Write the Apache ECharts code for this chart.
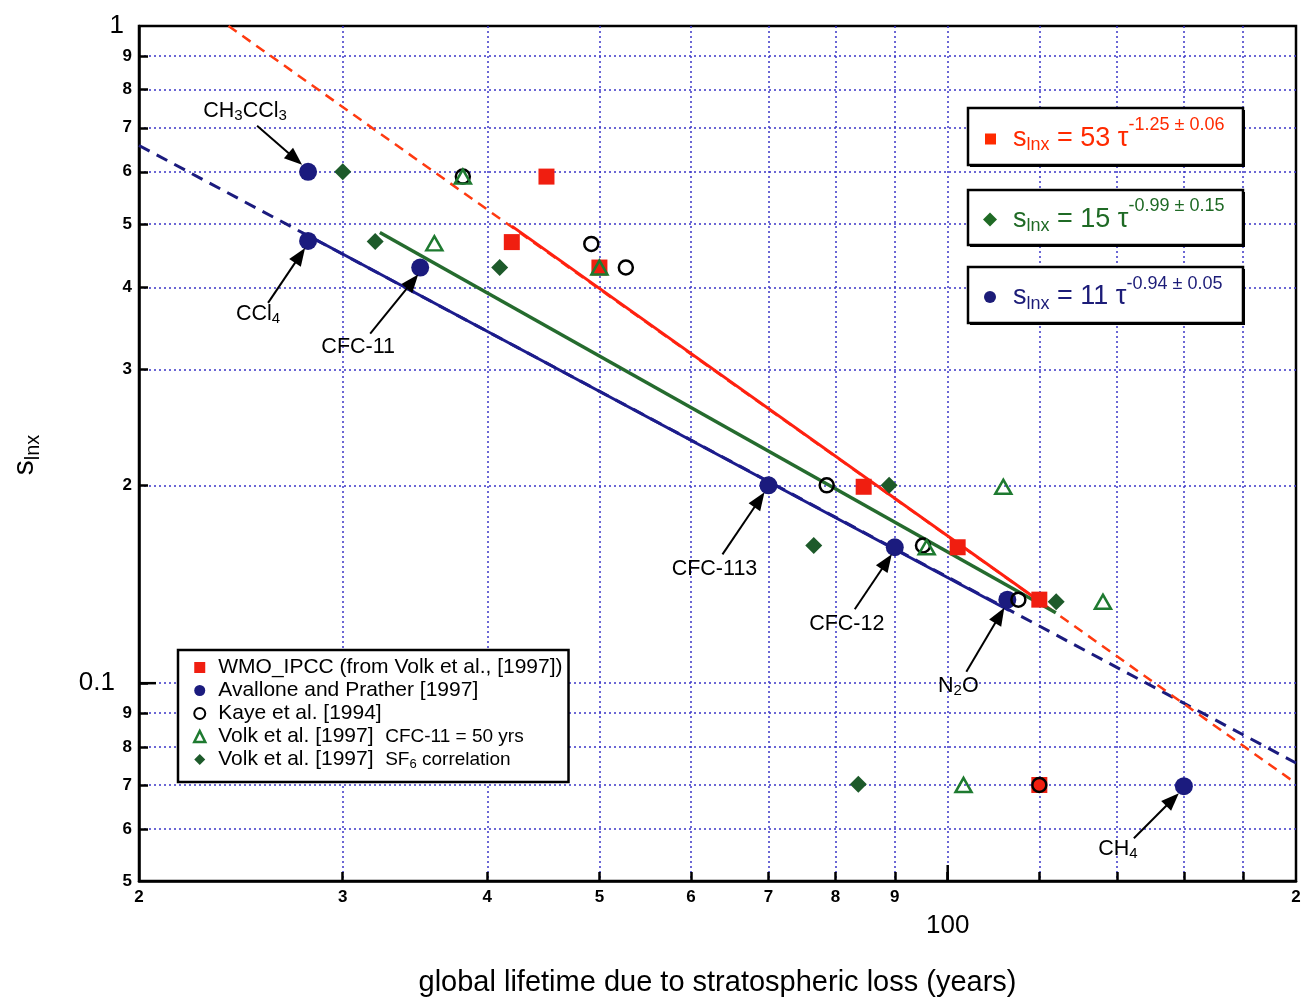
<!DOCTYPE html>
<html>
<head>
<meta charset="utf-8">
<title>s_lnx vs global lifetime</title>
<script src="https://cdn.jsdelivr.net/npm/echarts@6/dist/echarts.min.js"></script>
<style>
html,body{margin:0;padding:0;background:#fff;}
#chart{width:1305px;height:1002px;}
</style>
</head>
<body>
<div id="chart"></div>
<script>
// ---------------- data (lifetime in years, s_lnx) ----------------
const species = ['CH3CCl3','CCl4','CFC-11','CFC-113','CFC-12','N2O','CH4'];

const wmoLifetime      = [45.0, 42.0, 50.0, 84.6, 102.0, 120.0, 120.0];
const wmoS             = [0.590, 0.469, 0.429, 0.199, 0.161, 0.134, 0.0700];
const avalloneLifetime = [28.0, 28.0, 35.0, 70.0, 90.0, 112.6, 160.0];
const avalloneS        = [0.600, 0.471, 0.429, 0.200, 0.161, 0.134, 0.0697];
const kayeLifetime     = [38.1, 49.2, 52.7, 78.6, 95.2, 115.1, 120.0];
const kayeS            = [0.590, 0.466, 0.429, 0.200, 0.162, 0.134, 0.0700];
const volk50Lifetime   = [38.1, 36.0, 50.0, 111.7, 95.9, 136.2, 103.2];
const volk50S          = [0.590, 0.467, 0.429, 0.199, 0.161, 0.133, 0.0700];
const volkSF6Lifetime  = [30.0, 32.0, 41.0, 89.0, 76.6, 124.1, 83.7];
const volkSF6S         = [0.600, 0.470, 0.429, 0.200, 0.162, 0.133, 0.0702];

// fitted power-law lines: end points
const wmoFitLifetime = [42.0, 121.0];  const wmoFitS = [0.496, 0.132];
const wmoExtLifetime = [23.9, 200.0];  const wmoExtS = [1.0, 0.0704];
const sf6FitLifetime = [32.3, 124.0];  const sf6FitS = [0.485, 0.128];
const avFitLifetime  = [28.0, 113.0];  const avFitS  = [0.480, 0.129];
const avExtLifetime  = [20.0, 200.0];  const avExtS  = [0.658, 0.0756];

// axis ticks / labels
const xMin = 20, xMax = 200, yMin = 0.05, yMax = 1;
const xTickValues  = [30,40,50,60,70,80,90,100,120,140,160,180];
const xMajorTick   = 100;
const xLabelValues = [20,30,40,50,60,70,80,90,100,200];
const yTickValues  = [0.06,0.07,0.08,0.09,0.1,0.2,0.3,0.4,0.5,0.6,0.7,0.8,0.9];
const yMajorTick   = 0.1;
const yLabelValues = [0.05,0.06,0.07,0.08,0.09,0.1,0.2,0.3,0.4,0.5,0.6,0.7,0.8,0.9,1];

// texts
const seriesNames = [
  'WMO_IPCC (from Volk et al., [1997])',
  'Avallone and Prather [1997]',
  'Kaye et al. [1994]',
  'Volk et al. [1997]  CFC-11 = 50 yrs',
  'Volk et al. [1997]  SF6 correlation'
];
const xTitle = 'global lifetime due to stratospheric loss (years)';
const eqCoef = ['53', '15', '11'];
const eqExp  = ['-1.25 ± 0.06', '-0.99 ± 0.15', '-0.94 ± 0.05'];

// ---------------- styling ----------------
const FONT = "'Liberation Sans', Arial, Helvetica, sans-serif";
const RED = '#f01e10', NAVY = '#1b1b7e', DKGREEN = '#1d5a2a', GREEN = '#1e7a30';
const lg = v => Math.log10(v);
const pts = (xs, ys) => xs.map((x, i) => [lg(x), lg(ys[i])]);

function xFmt(v) {
  const t = Math.round(Math.pow(10, v));
  return t === 100 ? '{big|100}' : '{sm|' + String(t).charAt(0) + '}';
}
function yFmt(v) {
  const s = Math.pow(10, v);
  if (Math.abs(s - 0.1) < 1e-9) return '{bigA|0.1}';
  if (Math.abs(s - 1) < 1e-9) return '{bigB|1}';
  const e = Math.floor(Math.log10(s) + 1e-9);
  return '{sm|' + Math.round(s / Math.pow(10, e)) + '}';
}

function lineSeries(xs, ys, color, width, dash, z) {
  return {
    type: 'line', data: pts(xs, ys), symbol: 'none', silent: true, z: z,
    lineStyle: { color: color, width: width, type: dash || 'solid' }
  };
}

const option = {
  animation: false,
  backgroundColor: '#ffffff',
  textStyle: { fontFamily: FONT },
  grid: { left: 139, right: 9, top: 26, bottom: 119, show: true, borderColor: '#000', borderWidth: 2.5 },
  xAxis: {
    type: 'value', min: lg(xMin), max: lg(xMax), position: 'bottom',
    axisLine: { show: true, onZero: false, lineStyle: { color: '#000', width: 2.5 } },
    axisTick: { show: true, inside: true, length: 9, customValues: xTickValues.map(lg), lineStyle: { color: '#000', width: 2.5 } },
    axisLabel: {
      show: true, customValues: xLabelValues.map(lg), margin: 8, formatter: xFmt, color: '#000',
      rich: {
        sm: { fontFamily: FONT, fontSize: 17, fontWeight: 'bold', color: '#000' },
        big: { fontFamily: FONT, fontSize: 26, color: '#000', padding: [24, 0, 0, 0] }
      }
    },
    splitLine: { show: true, lineStyle: { color: '#3b36c8', width: 1.5, type: [2, 3] } },
    name: xTitle, nameLocation: 'middle', nameGap: 87,
    nameTextStyle: { fontFamily: FONT, fontSize: 29, color: '#000' }
  },
  yAxis: {
    type: 'value', min: lg(yMin), max: lg(yMax), position: 'left',
    axisLine: { show: true, onZero: false, lineStyle: { color: '#000', width: 2.5 } },
    axisTick: { show: true, inside: true, length: 9, customValues: yTickValues.map(lg), lineStyle: { color: '#000', width: 2.5 } },
    axisLabel: {
      show: true, customValues: yLabelValues.map(lg), margin: 7, formatter: yFmt, color: '#000',
      rich: {
        sm: { fontFamily: FONT, fontSize: 17, fontWeight: 'bold', color: '#000' },
        bigA: { fontFamily: FONT, fontSize: 26, color: '#000', padding: [0, 17, 0, 0] },
        bigB: { fontFamily: FONT, fontSize: 26, color: '#000', padding: [0, 8, 0, 0] }
      }
    },
    splitLine: { show: true, lineStyle: { color: '#3b36c8', width: 1.5, type: [2, 3] } }
  },
  legend: {
    data: [
      { name: seriesNames[0], icon: 'rect', itemStyle: { color: RED } },
      { name: seriesNames[1], icon: 'circle', itemStyle: { color: NAVY } },
      { name: seriesNames[2], icon: 'circle', itemStyle: { color: '#fff', borderColor: '#000', borderWidth: 2 } },
      { name: seriesNames[3], icon: 'triangle', itemStyle: { color: '#fff', borderColor: GREEN, borderWidth: 2.5 } },
      { name: seriesNames[4], icon: 'diamond', itemStyle: { color: DKGREEN } }
    ],
    orient: 'vertical', left: 178, top: 650, selectedMode: false,
    itemWidth: 11, itemHeight: 11, itemGap: 0,
    backgroundColor: '#fff', borderColor: '#000', borderWidth: 2.5, borderRadius: 0,
    padding: [6, 6, 11, 15],
    formatter: function (name) {
      if (name === seriesNames[3]) return 'Volk et al. [1997]  {sm|CFC-11 = 50 yrs}';
      if (name === seriesNames[4]) return 'Volk et al. [1997]  {sm|SF}{sub|6}{sm| correlation}';
      return name;
    },
    textStyle: {
      fontFamily: FONT, fontSize: 21, color: '#000', lineHeight: 23, padding: [0, 0, 0, 8],
      rich: {
        sm: { fontFamily: FONT, fontSize: 19, color: '#000', lineHeight: 23 },
        sub: { fontFamily: FONT, fontSize: 13, color: '#000', padding: [10, 0, 0, 0] }
      }
    }
  },
  series: [
    lineSeries(avExtLifetime, avExtS, NAVY, 3, [12, 8], 2),
    lineSeries(wmoExtLifetime, wmoExtS, '#ff3a10', 2.5, [10, 7], 2),
    lineSeries(avFitLifetime, avFitS, '#1c1c8c', 3, 'solid', 3),
    lineSeries(sf6FitLifetime, sf6FitS, '#256b2e', 3.5, 'solid', 3),
    lineSeries(wmoFitLifetime, wmoFitS, '#ff2010', 3, 'solid', 3),
    { name: seriesNames[1], type: 'scatter', z: 4, data: pts(avalloneLifetime, avalloneS),
      symbol: 'circle', symbolSize: 18, itemStyle: { color: NAVY, opacity: 1 } },
    { name: seriesNames[0], type: 'scatter', z: 5, data: pts(wmoLifetime, wmoS),
      symbol: 'rect', symbolSize: 16, itemStyle: { color: RED, opacity: 1 } },
    { name: seriesNames[2], type: 'scatter', z: 6, data: pts(kayeLifetime, kayeS),
      symbol: 'circle', symbolSize: 14, itemStyle: { color: 'rgba(255,255,255,0)', borderColor: '#000', borderWidth: 2.5, opacity: 1 } },
    { name: seriesNames[4], type: 'scatter', z: 7, data: pts(volkSF6Lifetime, volkSF6S),
      symbol: 'diamond', symbolSize: [17, 17], itemStyle: { color: DKGREEN, opacity: 1 } },
    { name: seriesNames[3], type: 'scatter', z: 8, data: pts(volk50Lifetime, volk50S),
      symbol: 'triangle', symbolSize: [16, 14], itemStyle: { color: 'rgba(255,255,255,0)', borderColor: GREEN, borderWidth: 2.5, opacity: 1 } }
  ]
};

const chart = echarts.init(document.getElementById('chart'), null, { renderer: 'canvas' });
chart.setOption(option);

const P = (x, y) => chart.convertToPixel({ seriesIndex: 5 }, [lg(x), lg(y)]);
const graphics = [];

// longer major ticks at 100 (x) and 0.1 (y), positioned through the axis scale
(function () {
  const pb = P(xMajorTick, yMin);
  graphics.push({ type: 'line', z: 50, silent: true,
    shape: { x1: pb[0], y1: pb[1], x2: pb[0], y2: pb[1] - 16 }, style: { stroke: '#000', lineWidth: 2.5 } });
  const pl = P(xMin, yMajorTick);
  graphics.push({ type: 'line', z: 50, silent: true,
    shape: { x1: pl[0], y1: pl[1], x2: pl[0] + 17, y2: pl[1] }, style: { stroke: '#000', lineWidth: 2.5 } });
})();

// ---------------- annotations (arrows + labels) ----------------
// offsets in pixels relative to the Avallone point of each species
const annoOffsets = [
  { label: [-63, -61], tail: [-51, -46], tip: [-6, -7] },
  { label: [-50, 73],  tail: [-40, 62],  tip: [-3, 7] },
  { label: [-62, 80],  tail: [-50, 66],  tip: [-2, 7] },
  { label: [-54, 84],  tail: [-46, 69],  tip: [-4, 7] },
  { label: [-48, 77],  tail: [-40, 62],  tip: [-3, 7] },
  { label: [-49, 86],  tail: [-41, 72],  tip: [-3, 8] },
  { label: [-66, 63],  tail: [-50, 52],  tip: [-5, 7] }
];
function speciesRich(name) {
  if (name.indexOf('CFC') === 0) return '{n|' + name + '}';
  return name.replace(/([A-Za-z]+)|(\d+)/g, (m, a, d) => a ? '{n|' + a + '}' : '{s|' + d + '}');
}
species.forEach((sp, i) => {
  const p = P(avalloneLifetime[i], avalloneS[i]);
  const o = annoOffsets[i];
  const tx = p[0] + o.tail[0], ty = p[1] + o.tail[1];
  const hx = p[0] + o.tip[0], hy = p[1] + o.tip[1];
  const dx = hx - tx, dy = hy - ty, L = Math.sqrt(dx * dx + dy * dy);
  const ux = dx / L, uy = dy / L, nx = -uy, ny = ux;
  const HL = 18, HW = 7;
  const bx = hx - ux * HL, by = hy - uy * HL;
  graphics.push({ type: 'line', z: 100, silent: true,
    shape: { x1: tx, y1: ty, x2: bx + ux * 3, y2: by + uy * 3 },
    style: { stroke: '#000', lineWidth: 2 } });
  graphics.push({ type: 'polygon', z: 100, silent: true,
    shape: { points: [[hx, hy], [bx + nx * HW, by + ny * HW], [bx - nx * HW, by - ny * HW]] },
    style: { fill: '#000' } });
  graphics.push({ type: 'text', z: 101, silent: true,
    x: p[0] + o.label[0], y: p[1] + o.label[1],
    style: { text: speciesRich(sp), align: 'center', verticalAlign: 'middle', fill: '#000',
      rich: {
        n: { fontFamily: FONT, fontSize: 21.5, fill: '#000' },
        s: { fontFamily: FONT, fontSize: 15, fill: '#000', padding: [10, 0, 0, 0] }
      } } });
});

// y-axis title
graphics.push({ type: 'text', z: 101, silent: true, x: 25, y: 455, rotation: Math.PI / 2,
  style: { text: '{m|s}{sub|lnx}', align: 'center', verticalAlign: 'middle',
    rich: {
      m: { fontFamily: FONT, fontSize: 30, fill: '#000' },
      sub: { fontFamily: FONT, fontSize: 20, fill: '#000', padding: [16, 0, 0, 0] }
    } } });

// equation boxes
const eqBoxes = [
  { y: 108, h: 57, color: '#ff2a00', marker: 'rect' },
  { y: 190, h: 55, color: '#1f6a25', marker: 'diamond' },
  { y: 267, h: 56, color: '#1c1c78', marker: 'circle' }
];
eqBoxes.forEach((b, i) => {
  graphics.push({ type: 'rect', z: 90, silent: true,
    shape: { x: 970, y: b.y + 2, width: 275, height: b.h },
    style: { fill: '#000' } });
  graphics.push({ type: 'rect', z: 91, silent: true,
    shape: { x: 968, y: b.y, width: 275, height: b.h },
    style: { fill: '#fff', stroke: '#000', lineWidth: 2.5 } });
  const cy = b.y + b.h / 2 + 2;
  if (b.marker === 'rect') {
    graphics.push({ type: 'rect', z: 92, silent: true, shape: { x: 985, y: cy - 5, width: 11, height: 11 }, style: { fill: b.color } });
  } else if (b.marker === 'diamond') {
    graphics.push({ type: 'polygon', z: 92, silent: true, shape: { points: [[990, cy - 7], [997, cy], [990, cy + 7], [983, cy]] }, style: { fill: b.color } });
  } else {
    graphics.push({ type: 'circle', z: 92, silent: true, shape: { cx: 990, cy: cy, r: 6 }, style: { fill: b.color } });
  }
  graphics.push({ type: 'text', z: 93, silent: true, x: 1013, y: cy,
    style: { text: '{m|s}{sub|lnx}{m| = ' + eqCoef[i] + ' τ}{sup|' + eqExp[i] + '}',
      align: 'left', verticalAlign: 'middle',
      rich: {
        m: { fontFamily: FONT, fontSize: 27, fill: b.color },
        sub: { fontFamily: FONT, fontSize: 18, fill: b.color, padding: [14, 0, 0, 0] },
        sup: { fontFamily: FONT, fontSize: 18, fill: b.color, padding: [0, 0, 26, 0] }
      } } });
});

chart.setOption({ graphic: graphics });
</script>
</body>
</html>
